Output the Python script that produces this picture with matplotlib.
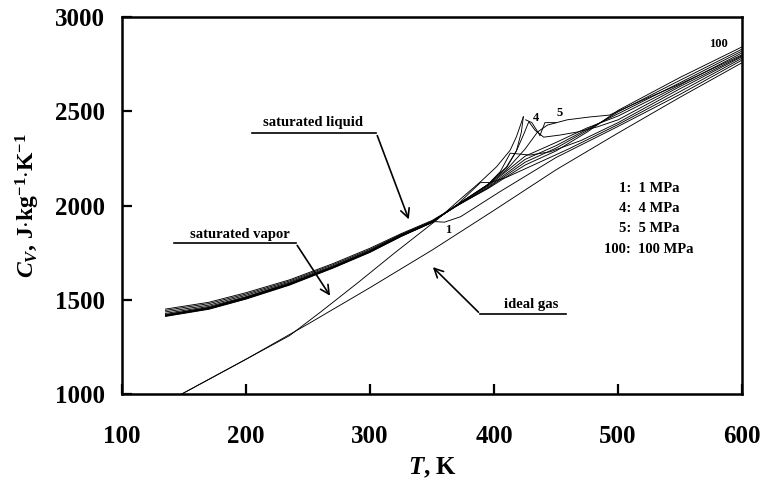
import matplotlib.pyplot as plt

plt.rcParams['font.family'] = ['Liberation Serif', 'DejaVu Serif']
plt.rcParams['font.weight'] = 'bold'
plt.rcParams['mathtext.fontset'] = 'custom'
plt.rcParams['mathtext.it'] = 'Liberation Serif:italic:bold'
plt.rcParams['mathtext.rm'] = 'Liberation Serif:bold'
plt.rcParams['mathtext.bf'] = 'Liberation Serif:bold'

### data (T in K, Cv in J/(kg K))
T_liq = [135, 170, 200, 235, 270, 300, 325, 350, 370, 395, 425, 450, 475, 500, 550, 600]
cv_100 = [1451, 1487, 1538, 1606, 1692, 1774, 1851, 1921, 2000, 2090, 2215, 2290, 2390, 2505, 2680, 2842]
cv_50 = [1444, 1480, 1531, 1600, 1686, 1768, 1847, 1917, 1998, 2093, 2230, 2305, 2398, 2497, 2665, 2830]
cv_20 = [1436, 1472, 1524, 1594, 1680, 1763, 1844, 1915, 1999, 2097, 2245, 2318, 2405, 2487, 2652, 2820]
cv_10 = [1428, 1465, 1517, 1589, 1676, 1760, 1842, 1914, 2002, 2103, 2262, 2335, 2412, 2475, 2640, 2810]

T_5 = [135, 170, 200, 235, 270, 300, 325, 350, 370, 395, 410, 425, 435, 443, 459, 477, 493, 520, 550, 600]
cv_5 = [1422, 1460, 1514, 1586, 1674, 1758, 1841, 1913, 2003, 2108, 2190, 2300, 2390, 2427, 2455, 2470, 2480, 2560, 2645, 2800]

T_4 = [135, 170, 200, 235, 270, 300, 325, 350, 370, 395, 410, 418, 424, 428, 433, 440, 453, 467, 483, 500, 550, 600]
cv_4 = [1420, 1458, 1512, 1585, 1673, 1757, 1840, 1913, 2003, 2110, 2205, 2290, 2380, 2445, 2400, 2363, 2374, 2390, 2417, 2455, 2632, 2795]

T_3 = [135, 170, 200, 235, 270, 300, 325, 350, 370, 395, 405, 413, 429, 445, 470, 500, 550, 600]
cv_3 = [1418, 1456, 1510, 1583, 1672, 1756, 1839, 1912, 2003, 2112, 2180, 2278, 2268, 2285, 2345, 2440, 2620, 2790]

T_2 = [135, 170, 200, 235, 270, 300, 325, 350, 370, 389, 397, 410, 430, 460, 500, 550, 600]
cv_2 = [1416, 1454, 1508, 1582, 1671, 1755, 1838, 1911, 2003, 2122, 2122, 2150, 2210, 2300, 2430, 2605, 2782]

T_1 = [135, 170, 200, 235, 270, 300, 325, 352, 360, 373, 405, 450, 500, 550, 600]
cv_1 = [1414, 1452, 1506, 1580, 1670, 1754, 1837, 1915, 1912, 1941, 2075, 2255, 2420, 2590, 2772]

T_satl = [135, 170, 200, 235, 270, 300, 325, 350, 370, 395, 410, 418, 422, 423.6]
cv_satl = [1412, 1450, 1504, 1578, 1668, 1752, 1836, 1912, 2003, 2112, 2200, 2290, 2390, 2471]

T_satv = [148, 200, 235, 260, 290, 320, 354, 375, 389, 402, 413, 418, 423.6]
cv_satv = [1000, 1185, 1310, 1435, 1590, 1750, 1925, 2047, 2126, 2206, 2294, 2365, 2471]

T_ideal = [148, 200, 250, 300, 350, 400, 450, 500, 550, 600]
cv_ideal = [1000, 1185, 1372, 1565, 1764, 1975, 2190, 2385, 2575, 2758]

legend_lines = ['1:  1 MPa', '4:  4 MPa', '5:  5 MPa', '100:  100 MPa']

fig = plt.figure(figsize=(7.63, 4.92), dpi=100)
ax = fig.add_axes([0.160, 0.199, 0.8126, 0.7663])

curves = [(T_liq, cv_100), (T_liq, cv_50), (T_liq, cv_20), (T_liq, cv_10),
          (T_5, cv_5), (T_4, cv_4), (T_3, cv_3), (T_2, cv_2), (T_1, cv_1),
          (T_satl, cv_satl), (T_satv, cv_satv), (T_ideal, cv_ideal)]
for tx, cy in curves:
    ax.plot(tx, cy, color='black', lw=0.65)

ax.set_xlim(100, 600)
ax.set_ylim(1000, 3000)
ax.set_xticks([100, 200, 300, 400, 500, 600])
ax.set_yticks([1000, 1500, 2000, 2500, 3000])
ax.tick_params(axis='both', direction='in', length=7, width=1.6, labelsize=18)
ax.tick_params(axis='x', pad=22)
ax.tick_params(axis='y', pad=12)
for s in ax.spines.values():
    s.set_linewidth(1.8)

ax.set_xlabel(r'$T$, K', fontsize=18, fontweight='bold', labelpad=6)
ax.set_ylabel(r'$C_V$, J$\cdot$kg$^{-1}$$\cdot$K$^{-1}$', fontsize=17, fontweight='bold', labelpad=10)

### annotations with underline + arrow
arr = dict(arrowstyle='->', color='black', lw=1.2, mutation_scale=16)
ax.text(254, 2443, 'saturated liquid', fontsize=10.5, ha='center', va='center')
ax.plot([205, 305], [2385, 2385], color='black', lw=1.2)
ax.annotate('', xy=(332, 1913), xytext=(305, 2385), arrowprops=arr)

ax.text(195, 1844, 'saturated vapor', fontsize=10.5, ha='center', va='center')
ax.plot([142, 240], [1801, 1801], color='black', lw=1.2)
ax.annotate('', xy=(269, 1509), xytext=(240, 1801), arrowprops=arr)

ax.text(430, 1477, 'ideal gas', fontsize=10.5, ha='center', va='center')
ax.plot([389, 458], [1424, 1424], color='black', lw=1.2)
ax.annotate('', xy=(349, 1684), xytext=(389, 1424), arrowprops=arr)

ax.text(363, 1870, '1', fontsize=9, ha='center', va='center')
ax.text(434, 2464, '4', fontsize=9, ha='center', va='center')
ax.text(453, 2490, '5', fontsize=9, ha='center', va='center')
ax.text(581, 2857, '100', fontsize=9, ha='center', va='center')

# leader lines of labels 4 and 5
ax.plot([425.5, 430.5, 437], [2455, 2440, 2372], color='black', lw=0.65)
ax.plot([437, 441, 450], [2372, 2440, 2440], color='black', lw=0.65)

for i, s in enumerate(legend_lines):
    ax.text(525, 2093 - i * 108, s, fontsize=10.5, ha='center', va='center')

fig.savefig('out.png', dpi=100)
